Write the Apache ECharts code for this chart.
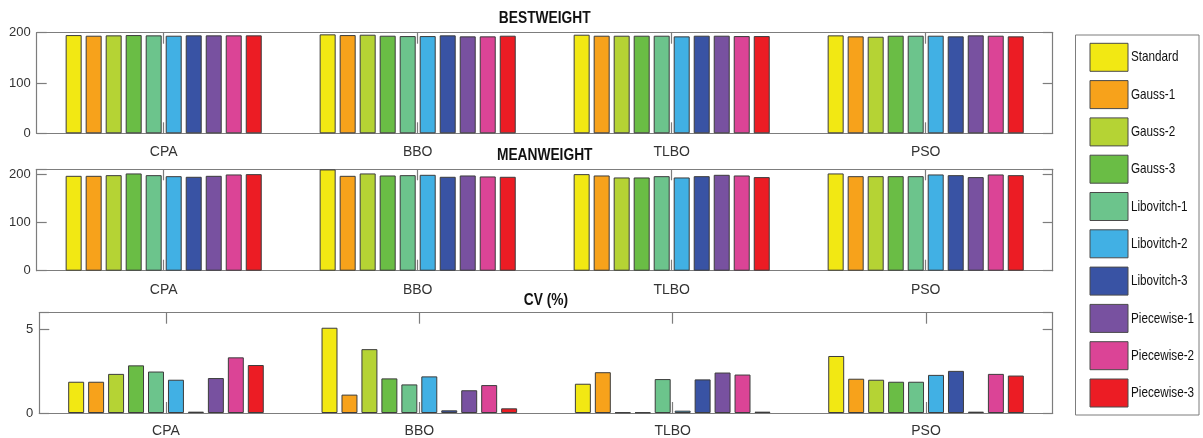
<!DOCTYPE html>
<html>
<head>
<meta charset="utf-8">
<script src="https://cdn.jsdelivr.net/npm/echarts@6/dist/echarts.min.js"></script>
<style>
  html, body { margin: 0; padding: 0; background: #fff; }
  #chart { width: 1203px; height: 438px; }
</style>
</head>
<body>
<div id="chart"></div>
<script>
// Algorithms on the x axis
const categories = ['CPA', 'BBO', 'TLBO', 'PSO'];

// Chaotic-map variants (one bar per variant in each group)
const methods = ['Standard', 'Gauss-1', 'Gauss-2', 'Gauss-3', 'Libovitch-1', 'Libovitch-2',
                 'Libovitch-3', 'Piecewise-1', 'Piecewise-2', 'Piecewise-3'];

const methodColors = ['#F2E813', '#F7A21B', '#B5D334', '#6ABD45', '#6CC48C', '#41B0E4',
                      '#3953A4', '#7851A0', '#DB4496', '#EC1C24'];

// Rows follow `methods`, columns follow `categories`
const bestWeight = [
  [195.3, 196.7, 196.0, 194.7],
  [194.0, 195.3, 194.0, 192.7],
  [194.7, 196.0, 194.0, 192.0],
  [195.3, 194.0, 194.0, 194.0],
  [194.7, 193.3, 194.0, 194.0],
  [194.0, 193.3, 192.7, 194.0],
  [194.7, 194.7, 194.0, 192.7],
  [194.7, 192.7, 194.0, 194.7],
  [194.7, 192.7, 193.3, 194.0],
  [194.7, 194.0, 193.3, 192.7]
];

const meanWeight = [
  [196.5, 209.7, 200.0, 201.4],
  [196.5, 196.5, 197.2, 195.8],
  [197.9, 201.4, 193.1, 195.8],
  [201.4, 197.2, 193.1, 195.8],
  [197.9, 197.9, 195.8, 195.8],
  [195.8, 198.6, 193.1, 199.3],
  [194.5, 194.5, 195.8, 197.9],
  [196.5, 197.2, 198.6, 193.8],
  [199.3, 195.2, 197.2, 199.3],
  [200.0, 194.5, 193.8, 197.9]
];

const cvPercent = [
  [1.87, 5.10, 1.75, 3.41],
  [1.87, 1.10, 2.44, 2.05],
  [2.34, 3.82, 0.04, 1.99],
  [2.85, 2.07, 0.04, 1.87],
  [2.48, 1.71, 2.03, 1.87],
  [1.99, 2.19, 0.14, 2.28],
  [0.08, 0.16, 2.01, 2.52],
  [2.09, 1.36, 2.42, 0.08],
  [3.33, 1.67, 2.30, 2.34],
  [2.87, 0.28, 0.08, 2.24]
];

// Panel definitions: title, data, y range
const panelTitles = ['BESTWEIGHT', 'MEANWEIGHT', 'CV (%)'];
const panelData = [bestWeight, meanWeight, cvPercent];
const panelYMax = [200, 210, 6];
const panelYInterval = [100, 100, 5];

const FONT = "'Liberation Sans', Arial, Helvetica, sans-serif";
const AXIS_GRAY = '#7d7d7d';
const TEXT = '#333333';
const NARROW = 0.8;   // horizontal squeeze for condensed-looking text

const W = 1203;
const grids = [
  { left: 36.7, right: 150.3, top: 32.7, height: 100.6 },
  { left: 36.7, right: 150.3, top: 169.3, height: 101.4 },
  { left: 39.3, right: 150.3, top: 312.7, height: 101.3 }
];
const labelMargins = [12, 12, 11];
const titleCenters = [19, 155.5, 300.5];

const xAxes = [], yAxes = [], series = [], graphics = [];

panelData.forEach((rows, p) => {
  const g = grids[p];
  const cx = g.left + (W - g.left - g.right) / 2;

  // panel title (bold, condensed)
  graphics.push({
    type: 'text', x: cx, y: titleCenters[p], scaleX: 0.86, silent: true,
    style: {
      text: panelTitles[p], x: 0, y: 0, align: 'center', verticalAlign: 'middle',
      font: "bold 16px " + FONT, fill: '#111'
    }
  });

  // bottom category axis with labels
  xAxes.push({
    type: 'category', gridIndex: p, data: categories, position: 'bottom',
    axisLine: { show: true, onZero: false, lineStyle: { color: AXIS_GRAY, width: 1.2 } },
    axisTick: { show: true, inside: true, alignWithLabel: true, length: 11, lineStyle: { color: AXIS_GRAY, width: 1.2 } },
    axisLabel: { show: true, margin: labelMargins[p], fontFamily: FONT, fontSize: 14, color: TEXT },
    splitLine: { show: false }
  });
  // top mirror axis (box edge + ticks)
  xAxes.push({
    type: 'category', gridIndex: p, data: categories, position: 'top',
    axisLine: { show: true, onZero: false, lineStyle: { color: AXIS_GRAY, width: 1.2 } },
    axisTick: { show: true, inside: true, alignWithLabel: true, length: 11, lineStyle: { color: AXIS_GRAY, width: 1.2 } },
    axisLabel: { show: false },
    splitLine: { show: false }
  });

  const yBase = {
    type: 'value', gridIndex: p, min: 0, max: panelYMax[p], interval: panelYInterval[p],
    splitLine: { show: false },
    axisLine: { show: true, onZero: false, lineStyle: { color: AXIS_GRAY, width: 1.2 } },
    axisTick: { show: true, inside: true, length: 10, lineStyle: { color: AXIS_GRAY, width: 1.2 } }
  };
  yAxes.push(Object.assign({}, yBase, {
    position: 'left',
    axisLabel: {
      show: true, margin: 6, fontFamily: FONT, fontSize: 13, color: TEXT,
      formatter: v => (v % panelYInterval[p] === 0 ? String(v) : '')
    }
  }));
  yAxes.push(Object.assign({}, yBase, {
    position: 'right',
    axisLabel: { show: false }
  }));

  rows.forEach((vals, m) => {
    series.push({
      name: methods[m],
      type: 'bar',
      xAxisIndex: p * 2,
      yAxisIndex: p * 2,
      data: vals,
      barGap: '25%',
      barCategoryGap: '22.8%',
      itemStyle: { color: methodColors[m], borderColor: '#3c3c3c', borderWidth: 1 },
      emphasis: { disabled: true },
      animation: false
    });
  });
});

// Legend box: one swatch + label per variant
const legendBox = { x: 1075.5, y: 35, width: 123.5, height: 380 };
graphics.push({
  type: 'rect', silent: true,
  shape: { x: legendBox.x, y: legendBox.y, width: legendBox.width, height: legendBox.height },
  style: { fill: '#fff', stroke: AXIS_GRAY, lineWidth: 1 }
});
methods.forEach((name, i) => {
  const top = 43.3 + i * 37.3;
  graphics.push({
    type: 'rect', silent: true,
    shape: { x: 1090, y: top, width: 38, height: 28 },
    style: { fill: methodColors[i], stroke: '#4a4a4a', lineWidth: 1 }
  });
  graphics.push({
    type: 'text', silent: true, x: 1131, y: top + 14, scaleX: 0.78,
    style: {
      text: name, x: 0, y: 0, align: 'left', verticalAlign: 'middle',
      font: "15px " + FONT, fill: '#111'
    }
  });
});

const chart = echarts.init(document.getElementById('chart'), null, { renderer: 'canvas' });
chart.setOption({
  animation: false,
  backgroundColor: '#ffffff',
  grid: grids.map(g => Object.assign({ containLabel: false }, g)),
  xAxis: xAxes,
  yAxis: yAxes,
  series: series,
  graphic: { elements: graphics }
});
</script>
</body>
</html>
